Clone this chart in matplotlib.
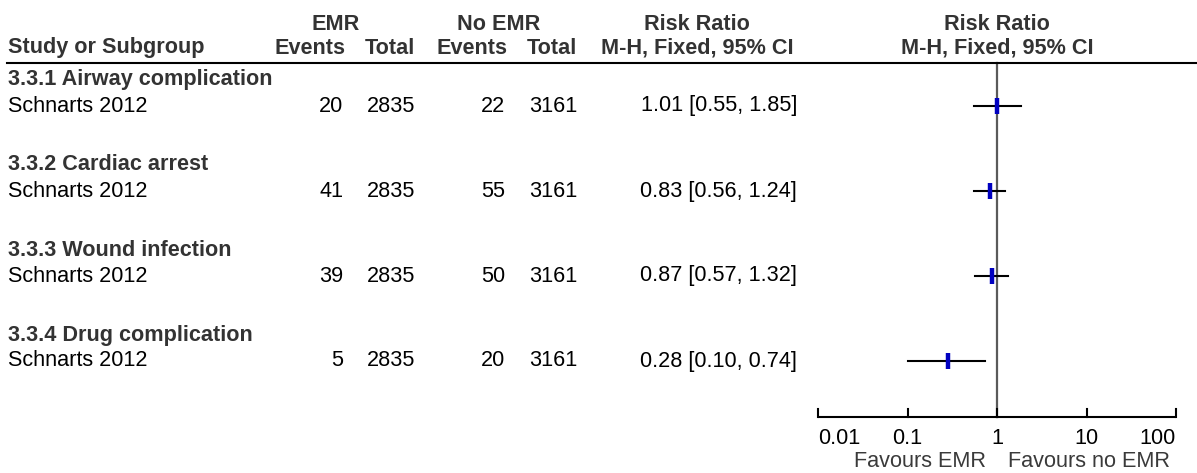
import matplotlib
matplotlib.use("Agg")
import matplotlib.pyplot as plt

# ---- data ----
subgroups = ["3.3.1 Airway complication", "3.3.2 Cardiac arrest",
             "3.3.3 Wound infection", "3.3.4 Drug complication"]
studies = ["Schnarts 2012", "Schnarts 2012", "Schnarts 2012", "Schnarts 2012"]
emr_events = [20, 41, 39, 5]
emr_total = [2835, 2835, 2835, 2835]
no_events = [22, 55, 50, 20]
no_total = [3161, 3161, 3161, 3161]
rr = [1.01, 0.83, 0.87, 0.28]
rr_lo = [0.55, 0.56, 0.57, 0.10]
rr_hi = [1.85, 1.24, 1.32, 0.74]
tick_vals = [0.01, 0.1, 1, 10, 100]
tick_labels = ["0.01", "0.1", "1", "10", "100"]
favours = ["Favours EMR", "Favours no EMR"]

W, H = 1197, 473
plt.rcParams['font.family'] = ['Liberation Sans', 'DejaVu Sans']
fig = plt.figure(figsize=(W / 100, H / 100), dpi=100)

FS = 15.6
HDR = '#333333'

def T(x, y, s, ha='left', bold=False, color='black', size=FS):
    fig.text(x / W, 1 - y / H, s, ha=ha, va='center', fontsize=size,
             fontweight='bold' if bold else 'normal', color=color)

# header
T(336, 24, "EMR", ha='center', bold=True, color=HDR)
T(499, 24, "No EMR", ha='center', bold=True, color=HDR)
T(697, 24, "Risk Ratio", ha='center', bold=True, color=HDR)
T(997, 24, "Risk Ratio", ha='center', bold=True, color=HDR)
T(8, 48, "Study or Subgroup", bold=True, color=HDR)
T(345, 48, "Events", ha='right', bold=True, color=HDR)
T(415, 48, "Total", ha='right', bold=True, color=HDR)
T(507, 48, "Events", ha='right', bold=True, color=HDR)
T(577, 48, "Total", ha='right', bold=True, color=HDR)
T(697, 48, "M-H, Fixed, 95% CI", ha='center', bold=True, color=HDR)
T(997, 48, "M-H, Fixed, 95% CI", ha='center', bold=True, color=HDR)

# header underline
fig.add_artist(plt.Line2D([7 / W, 1.0], [1 - 63 / H, 1 - 63 / H],
                          color='black', lw=1.5))

row_y = []
for i in range(len(subgroups)):
    yg = 80 + 85 * i
    ys = yg + 26
    row_y.append(ys)
    T(8, yg, subgroups[i], bold=True, color=HDR)
    T(8, ys, studies[i])
    T(343, ys, str(emr_events[i]), ha='right')
    T(415, ys, str(emr_total[i]), ha='right')
    T(505, ys, str(no_events[i]), ha='right')
    T(577, ys, str(no_total[i]), ha='right')
    T(797, ys, f"{rr[i]:.2f} [{rr_lo[i]:.2f}, {rr_hi[i]:.2f}]", ha='right')

# forest axes in pixel y coordinates
x0, x1 = 818, 1176
ax = fig.add_axes([x0 / W, 0, (x1 - x0) / W, 1])
ax.set_xscale('log')
ax.set_xlim(tick_vals[0], tick_vals[-1])
ax.set_ylim(H, 0)
ax.axis('off')

axis_y = 417
ax.plot([tick_vals[0], tick_vals[-1]], [axis_y, axis_y], color='black', lw=1.5,
        clip_on=False, solid_capstyle='butt')
for v in tick_vals:
    ax.plot([v, v], [axis_y - 8, axis_y], color='black', lw=1.5, clip_on=False)
n = len(tick_vals)
for k, (v, lab) in enumerate(zip(tick_vals, tick_labels)):
    ha = 'left' if k == 0 else ('right' if k == n - 1 else 'center')
    ax.text(v, 438, lab, ha=ha, va='center', fontsize=FS, color='black')
ax.plot([1, 1], [63, axis_y], color='#5a5a5a', lw=1.6, zorder=1)

for i in range(len(rr)):
    ax.plot([rr_lo[i], rr_hi[i]], [row_y[i], row_y[i]], color='black', lw=1.5, zorder=2)
    ax.plot([rr[i]], [row_y[i]], marker='|', markersize=11, markeredgewidth=3.2,
            color='#0000c0', zorder=3, linestyle='none')

ax.text(0.75, 461, favours[0], ha='right', va='center', fontsize=FS, color='#3a3a3a')
ax.text(1.33, 461, favours[1], ha='left', va='center', fontsize=FS, color='#3a3a3a')

fig.savefig("out.png", dpi=100)
